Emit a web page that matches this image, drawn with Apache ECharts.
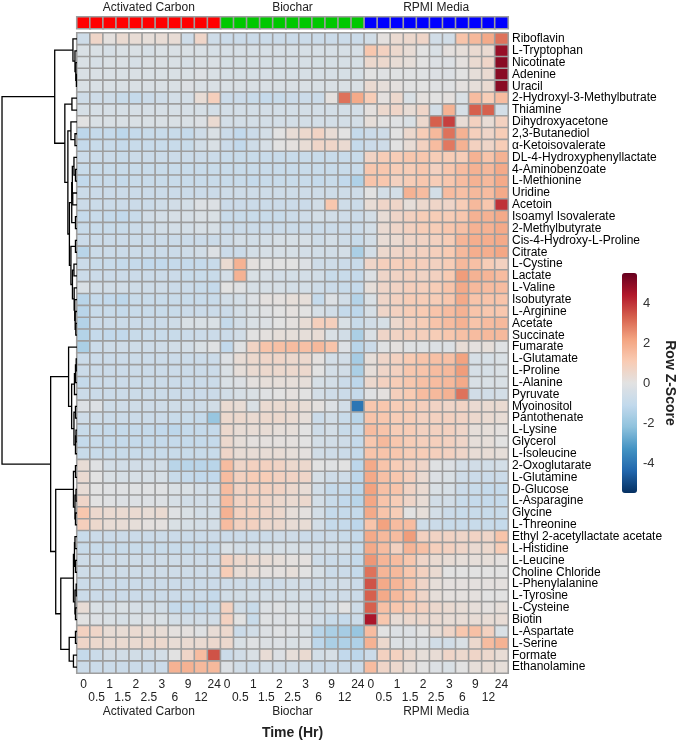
<!DOCTYPE html>
<html><head><meta charset="utf-8">
<script src="https://cdn.jsdelivr.net/npm/echarts@6/dist/echarts.min.js"></script>
<style>html,body{margin:0;padding:0;background:#fff}#c{width:681px;height:745px}</style>
</head><body><div id="c"></div>
<script>
const rowNames = ['Riboflavin','L-Tryptophan','Nicotinate','Adenine','Uracil','2-Hydroxyl-3-Methylbutrate','Thiamine','Dihydroxyacetone','2,3-Butanediol','α-Ketoisovalerate','DL-4-Hydroxyphenyllactate','4-Aminobenzoate','L-Methionine','Uridine','Acetoin','Isoamyl Isovalerate','2-Methylbutyrate','Cis-4-Hydroxy-L-Proline','Citrate','L-Cystine','Lactate','L-Valine','Isobutyrate','L-Arginine','Acetate','Succinate','Fumarate','L-Glutamate','L-Proline','L-Alanine','Pyruvate','Myoinositol','Pantothenate','L-Lysine','Glycerol','L-Isoleucine','2-Oxoglutarate','L-Glutamine','D-Glucose','L-Asparagine','Glycine','L-Threonine','Ethyl 2-acetyllactate acetate','L-Histidine','L-Leucine','Choline Chloride','L-Phenylalanine','L-Tyrosine','L-Cysteine','Biotin','L-Aspartate','L-Serine','Formate','Ethanolamine'];
const timeLabels = ['0','0.5','1','1.5','2','2.5','3','6','9','12','24'];
const groupNames = ['Activated Carbon','Biochar','RPMI Media'];
const groupColors = ['#ff0000','#00c800','#0000ff'];
const legendTicks = [-4,-2,0,2,4];

const acValues = [
[-0.7,0.6,0.1,0.4,0.3,0.2,0.3,0.3,-0.7,0.6,-0.7],
[-0.3,-0.3,-0.4,-0.3,-0.3,-0.4,-0.3,-0.3,-0.3,-0.3,-0.4],
[-0.3,-0.4,-0.3,-0.3,-0.4,-0.3,-0.3,-0.3,-0.4,-0.3,-0.3],
[-0.3,-0.3,-0.3,-0.3,-0.3,-0.3,-0.3,-0.3,-0.3,-0.2,-0.3],
[-0.3,-0.3,-0.3,-0.3,-0.3,-0.3,-0.3,-0.3,-0.2,-0.3,-0.3],
[-0.7,-0.7,-0.7,-0.9,-1.0,-0.8,-0.7,-0.5,-0.5,0.3,0.9],
[-0.4,-0.4,-0.4,-0.4,-0.4,-0.4,-0.4,-0.4,-0.4,-0.4,-0.5],
[0,-0.3,-0.3,-0.3,-0.3,-0.3,-0.3,-0.3,-0.3,-0.2,0.4],
[-1.2,-1.0,-1.0,-1.2,-1.0,-0.9,-0.9,-0.9,-1.0,-0.7,-0.3],
[-1.0,-0.9,-0.9,-1.0,-0.9,-0.9,-0.9,-0.9,-0.9,-0.6,-0.3],
[-0.8,-0.8,-0.8,-0.9,-0.8,-0.8,-0.8,-0.8,-0.8,-0.8,-0.8],
[-0.9,-0.9,-0.9,-0.9,-0.9,-0.9,-0.9,-0.9,-0.9,-0.9,-0.9],
[-1.1,-0.9,-0.9,-1.0,-0.9,-0.9,-0.9,-0.9,-0.9,-0.9,-0.9],
[-0.8,-0.8,-0.8,-0.8,-0.8,-0.8,-0.8,-0.8,-0.8,-0.8,-0.8],
[-0.8,-0.8,-0.8,-0.8,-0.8,-0.8,-0.7,-0.6,-0.5,-0.2,-0.2],
[-1.0,-0.9,-1.0,-1.1,-0.9,-0.6,-0.5,-0.4,-0.4,-0.3,-0.3],
[-0.9,-0.9,-0.9,-0.9,-0.8,-0.7,-0.6,-0.5,-0.5,-0.4,-0.4],
[-0.8,-0.8,-0.8,-0.8,-0.8,-0.8,-0.8,-0.8,-0.8,-0.8,-0.8],
[-1.3,-0.8,-0.8,-0.8,-0.8,-0.8,-0.8,-0.8,-0.7,-0.6,-0.2],
[-0.8,-0.9,-0.9,-1.0,-1.0,-1.1,-1.1,-1.0,-1.0,-1.0,-0.9],
[-0.8,-0.8,-0.8,-0.8,-0.8,-0.8,-0.8,-0.8,-0.9,-0.9,-0.9],
[-0.3,-0.6,-0.6,-0.6,-0.7,-0.7,-0.7,-0.8,-0.8,-0.9,-1.0],
[-1.3,-1.0,-1.1,-1.2,-0.9,-0.9,-0.9,-0.9,-0.9,-0.9,-0.9],
[-1.3,-0.9,-0.9,-1.0,-0.9,-0.9,-0.9,-0.9,-0.8,-0.8,-0.8],
[-1.4,-0.8,-0.8,-0.8,-0.8,-0.8,-0.8,-0.7,-0.3,-0.3,-0.3],
[-1.4,-1.0,-1.1,-1.1,-0.9,-0.9,-0.9,-0.9,-0.8,-0.8,-0.8],
[-1.6,-0.8,-0.7,-0.7,-0.7,-0.7,-0.7,-0.6,-0.5,-0.3,-0.1],
[-0.8,-0.8,-0.8,-0.8,-0.8,-0.8,-0.8,-0.8,-0.8,-0.8,-0.8],
[-0.8,-0.8,-0.8,-0.8,-0.8,-0.8,-0.8,-0.8,-0.8,-0.8,-0.8],
[-1.0,-0.8,-0.8,-0.8,-0.8,-0.8,-0.8,-0.8,-0.8,-0.8,-0.8],
[-0.8,-0.8,-0.8,-0.8,-0.8,-0.8,-0.8,-0.8,-0.8,-0.8,-0.8],
[-0.2,-0.2,-0.7,-0.7,-0.7,-0.7,-0.7,-0.7,-0.7,-0.7,-0.6],
[-0.7,-0.7,-0.8,-0.8,-0.8,-0.8,-0.8,-0.9,-0.9,-1.0,-2.0],
[-0.9,-0.9,-1.0,-1.0,-1.0,-1.0,-1.1,-1.2,-1.0,-1.0,-1.0],
[-1.0,-0.9,-1.0,-1.0,-1.0,-1.0,-1.0,-1.0,-1.0,-1.0,-1.0],
[-0.9,-0.9,-0.9,-0.9,-0.9,-0.9,-0.9,-0.9,-0.9,-0.9,-0.9],
[0.3,-0.1,-0.5,-0.6,-0.6,-0.6,-0.6,-1.3,-1.3,-1.3,-1.3],
[0.4,0,-0.3,-0.4,-0.4,-0.4,-0.4,-0.9,-1.0,-1.1,-1.1],
[0.3,0,-0.1,-0.1,-0.1,-0.1,-0.1,-0.3,-0.3,-0.5,-0.6],
[0.6,0,-0.1,-0.2,-0.2,-0.2,-0.2,-0.4,-0.6,-0.6,-0.6],
[1.2,0.5,0.4,0.4,0.4,0.3,0.4,-0.1,-0.3,-0.5,-0.5],
[0.9,0.5,0.3,0.3,0.2,0.1,0.1,-0.3,-0.4,-0.5,-0.5],
[-0.9,-0.8,-0.8,-0.8,-0.8,-0.8,-0.8,-0.8,-0.8,-0.8,-0.8],
[-0.9,-0.9,-0.9,-0.9,-0.9,-0.9,-0.9,-0.9,-0.9,-0.9,-0.9],
[-0.7,-0.7,-0.7,-0.7,-0.7,-0.7,-0.7,-0.7,-0.7,-0.7,-0.7],
[-0.7,-0.7,-0.7,-0.7,-0.7,-0.7,-0.7,-0.7,-0.7,-0.7,-0.7],
[-0.8,-0.8,-0.8,-0.8,-0.8,-0.8,-0.8,-0.8,-0.8,-0.8,-0.8],
[-0.8,-0.8,-0.8,-0.8,-0.8,-0.8,-0.8,-0.8,-0.8,-0.8,-1.0],
[0.3,-0.3,-0.4,-0.3,-0.4,-0.5,-0.6,-1.0,-1.0,-1.0,-0.9],
[0,-0.2,-0.3,-0.4,-0.3,-0.2,-0.3,-0.5,-0.6,-0.6,-0.6],
[0.8,0.6,0.3,0.3,0.4,0.3,0.3,0.1,0.1,-0.1,0.3],
[0.6,0.5,0.4,0.4,0.4,0.5,0.5,0.3,0.4,0.4,0.5],
[-1.0,-0.8,-0.6,-0.6,-0.6,-0.7,-0.5,0,0.6,1.5,3.5],
[-0.8,-0.8,-0.8,-0.8,-0.8,-0.8,-0.8,1.8,1.8,1.6,1.6]
];

const bcValues = [
[-0.8,-0.8,-0.8,-0.8,-0.8,-0.8,-0.8,-0.8,-0.8,-0.8,-0.8],
[-0.4,-0.4,-0.4,-0.4,-0.4,-0.4,-0.4,-0.4,-0.4,-0.4,-0.4],
[-0.4,-0.4,-0.4,-0.4,-0.4,-0.4,-0.4,-0.4,-0.4,-0.4,-0.4],
[-0.4,-0.4,-0.4,-0.4,-0.4,-0.4,-0.4,-0.4,-0.4,-0.4,-0.4],
[-0.3,-0.3,-0.3,-0.3,-0.3,-0.3,-0.3,-0.3,-0.3,-0.3,-0.3],
[-0.8,-0.8,-0.9,-1.0,-0.9,-0.8,-0.8,-0.8,0.1,3.0,2.0],
[-0.5,-0.5,-0.5,-0.5,-0.5,-0.5,-0.5,-0.5,-0.5,-0.5,-0.5],
[-0.5,-0.5,-0.5,-0.5,-0.5,-0.5,-0.5,-0.5,-0.5,-0.5,-0.5],
[-0.8,-1.1,-0.8,-0.5,0,0.3,0.5,0.7,0.3,0,-1.0],
[-0.8,-1.1,-0.7,-0.4,0,0.1,0.3,0.6,0.6,0.4,-1.0],
[-0.9,-0.9,-0.9,-0.9,-0.9,-0.9,-0.9,-0.9,-0.9,-0.9,-0.9],
[-0.9,-0.9,-0.9,-0.9,-0.9,-0.9,-0.9,-0.9,-0.9,-0.9,-0.9],
[-0.9,-0.9,-1.0,-0.9,-0.9,-0.9,-0.9,-1.0,-0.9,-1.1,-1.5],
[-0.7,-0.7,-0.7,-0.7,-0.7,-0.7,-0.7,-0.7,-0.7,-0.7,-0.7],
[-0.8,-0.8,-0.8,-0.8,-0.8,-0.8,-0.8,-0.6,1.2,-0.7,-0.8],
[-0.9,-0.9,-0.9,-0.9,-0.9,-0.8,-0.7,-0.5,-0.6,-0.7,-0.8],
[-0.8,-0.8,-0.8,-0.8,-0.8,-0.8,-0.8,-0.8,-0.8,-0.8,-0.8],
[-0.7,-0.5,-0.6,-0.5,-0.4,-0.4,-0.4,-0.7,-0.5,-0.7,-0.9],
[-0.8,-0.8,-0.5,-0.4,-0.4,-0.4,-0.5,-0.6,-0.6,-0.5,-1.6],
[0.4,1.8,0.1,0,0,0,-0.2,-0.7,-0.7,-0.8,-0.9],
[-0.5,1.8,-0.3,-0.4,-0.5,-0.5,-0.5,-0.6,-0.9,-0.9,-1.0],
[0,-0.1,-0.4,-0.4,-0.4,-0.5,-0.5,-0.7,-0.8,-0.9,-1.0],
[-0.6,-0.5,-0.2,0.1,0.1,0.2,0.2,-1.0,-0.2,-0.6,-1.4],
[-0.8,-0.5,-0.3,-0.1,0,0.1,0,-0.4,-0.6,-1.0,-1.2],
[-1.0,-0.6,-0.3,-0.2,0,0.1,0.3,0.9,0.9,-0.3,-0.9],
[-0.8,-0.6,0,0.1,0.2,0.2,0.2,0.3,-0.3,-0.6,-1.6],
[-1.1,-0.1,0.7,1.3,1.4,1.5,1.4,1.6,1.3,-0.2,-1.3],
[-0.2,0.3,0.5,0.6,0.6,0.5,0.5,0.1,-0.5,-0.6,-1.7],
[-0.3,0.2,0.4,0.5,0.5,0.5,0.5,0,-0.5,-0.6,-1.6],
[-0.3,-0.2,0.1,0.2,0.2,0.2,0.2,-0.4,-0.5,-0.8,-1.2],
[-0.6,-0.4,-0.3,-0.1,0,0.1,0,-0.5,-0.7,-0.8,-1.0],
[0.4,0.3,-0.3,0.4,0.4,0.4,0.3,0.1,-0.2,-0.6,-4.0],
[0.5,0.5,0.4,0.5,0.5,0.4,0.2,-0.8,-0.6,-0.9,-1.3],
[0.5,0.3,0.3,0.3,0.2,0.2,0,-0.7,-0.5,-0.9,-1.0],
[0.5,0.2,0.1,0.1,0.1,0.1,0,-0.5,-0.6,-0.7,-1.0],
[0.6,0.3,0.3,0.3,0.3,0.2,0.1,-0.6,-0.7,-0.8,-1.0],
[1.5,0.6,0.8,0.8,0.7,0.5,0.5,0,-0.1,0,-1.2],
[1.5,0.8,1.0,1.0,0.8,0.7,0.6,-0.4,-0.7,-0.7,-1.2],
[1.5,0.7,0.8,0.8,0.7,0.5,0.3,-0.6,-1.0,-1.0,-1.2],
[1.5,0.7,0.8,0.6,0.5,0.4,0.5,-0.5,-0.9,-1.1,-1.3],
[1.8,0.8,0.8,0.6,0.5,0.2,0.1,-0.5,-1.0,-1.0,-1.0],
[1.5,0.8,0.8,0.5,0.5,0.3,0.3,-0.5,-1.0,-1.0,-1.2],
[-0.8,-0.8,-0.8,-0.8,-0.7,-0.7,-0.8,-0.8,-0.8,-0.9,-1.0],
[-0.3,-0.5,-0.5,-0.4,-0.4,-0.4,-0.4,-0.6,-0.6,-0.6,-0.9],
[0.8,0.5,0.4,0.3,0.2,0.1,0.1,-0.7,-0.8,-0.8,-1.0],
[1.0,0.3,0.3,0.1,0.1,0.2,0,-0.4,-0.8,-0.8,-1.0],
[-0.7,-0.7,-0.7,-0.7,-0.7,-0.6,-0.6,-0.7,-0.7,-0.6,-0.8],
[-0.6,-0.6,-0.5,-0.5,-0.5,-0.5,-0.5,-0.7,-0.7,-0.7,-0.8],
[0.8,-0.6,-0.9,-0.2,-0.1,-0.3,-0.3,-0.6,-0.4,0,-0.7],
[0.8,0,-0.9,-0.1,-0.2,-0.1,-0.2,-0.6,-0.9,-1.0,-0.8],
[0.5,-0.8,-0.6,-0.2,-0.1,-0.2,-0.3,-1.3,-1.6,-1.7,-2.0],
[0.5,-0.3,-0.1,-0.2,-0.2,-0.3,-0.2,-1.2,-1.6,-1.5,-1.5],
[-0.8,-0.6,-0.3,0.3,-0.2,0.2,0.4,-0.5,-0.4,-1.1,-1.2],
[-0.2,-0.6,-0.7,-0.5,-0.6,-0.6,-0.6,-0.8,-0.8,-0.8,-0.8]
];

const rpmiValues = [
[-0.6,0.1,0.4,0.5,0.6,-0.6,-0.6,1.3,1.6,2.0,3.0],
[1.2,0.8,0.5,0.3,0,-0.3,0.1,0.2,0.4,0.4,4.8],
[0.5,0.5,0.3,0.2,0,-0.2,-0.2,0.1,0.4,0.6,5.0],
[0,-0.1,-0.1,-0.1,-0.1,-0.2,-0.2,0,0.2,0.4,5.0],
[0.4,0.2,0.1,0,0,-0.1,-0.1,0.1,0.2,0.4,5.0],
[1.0,0.1,0.5,-0.3,0.1,0,0.1,-0.3,1.5,1.0,1.5],
[0.1,0.5,0.6,0.3,0.6,-0.5,1.8,-0.4,3.3,3.3,-0.5],
[0.2,0,-0.1,-0.3,0.5,3.3,3.8,0.3,0.8,0.3,0.8],
[-0.8,-0.7,0,0.5,1.0,1.6,3.0,1.8,0.9,0.6,1.0],
[-0.8,-0.7,0,0.3,0.8,1.5,2.9,1.8,0.8,0.6,1.0],
[0.7,1.0,1.0,1.2,1.2,1.0,1.0,1.0,1.8,1.3,1.8],
[1.2,1.2,1.0,1.0,1.2,0.8,1.2,1.5,1.8,1.6,2.0],
[1.3,1.2,0.8,1.0,1.2,1.0,1.2,1.5,1.8,1.6,2.0],
[0,-0.5,-0.5,1.8,1.5,-0.5,1.5,1.4,1.6,1.5,2.0],
[0.3,0.6,0.6,0.2,0.5,0.6,0.6,1.0,1.6,1.2,4.0],
[-0.5,0.3,0.6,0.8,1.0,1.0,1.0,1.2,1.8,1.8,2.0],
[-0.5,0.4,0.6,0.8,1.0,1.0,1.2,1.4,1.8,1.8,2.0],
[-0.5,0.3,0.4,0.6,0.7,0.8,1.0,1.7,1.9,1.9,2.0],
[-0.5,0.5,0.6,0.7,0.8,0.9,1.1,1.6,1.9,1.9,2.1],
[0.6,0.9,0.9,1.0,0.9,0.8,1.0,1.6,1.4,1.0,0.8],
[-0.2,0.6,0.7,0.8,0.7,0.8,1.1,2.3,1.8,1.7,1.5],
[0.2,0.6,0.7,0.9,0.9,1.0,1.3,2.0,1.6,1.5,1.5],
[-0.3,0.6,0.8,1.0,1.0,1.0,1.2,2.0,1.3,1.3,1.3],
[-0.4,0.6,0.8,1.0,1.1,1.3,1.5,1.8,1.3,1.2,1.2],
[-0.6,-0.4,0.5,0.8,1.0,1.3,1.5,1.8,1.3,1.5,1.6],
[-0.3,0.6,0.7,0.9,0.9,1.0,1.2,1.4,1.5,1.6,1.6],
[-0.8,-0.1,0.1,-0.1,-0.1,-0.2,-0.2,0.3,0.1,0.2,-0.1],
[0.2,0.6,0.8,1.1,1.3,1.4,1.4,2.2,-0.4,-0.4,-0.3],
[0.2,0.6,0.8,1.2,1.3,1.5,1.6,2.3,-0.4,-0.4,-0.3],
[0.5,0.8,1.0,1.2,1.4,1.5,1.6,2.0,-0.3,-0.3,-0.3],
[-0.1,0.1,0.9,1.1,1.5,1.6,1.8,3.0,-0.6,-0.6,-0.5],
[1.2,1.2,1.0,1.0,0.9,0.7,0.6,0.7,0.4,0.4,0.4],
[1.3,1.2,1.0,1.0,0.8,0.8,0.8,0.7,0.5,0.4,0.3],
[1.5,1.3,1.0,1.0,0.8,0.8,0.8,0.6,0.2,0.2,0.1],
[1.2,1.6,1.2,1.0,0.9,0.9,0.8,0.6,0.2,0.2,0],
[1.3,1.3,1.2,1.0,1.0,0.9,0.8,0.6,0.3,0.3,0.2],
[2.0,1.3,1.0,0.8,0.6,-0.1,-0.2,-0.5,-0.6,-0.6,-0.5],
[2.0,1.4,1.2,0.9,0.4,-0.2,-0.3,-0.7,-0.8,-0.8,-0.8],
[2.2,1.4,1.3,0.7,0.4,-0.3,-0.4,-0.8,-0.9,-1.0,-1.0],
[2.1,1.3,1.0,0.6,0.3,-0.6,-0.6,-0.9,-1.0,-1.0,-1.0],
[2.0,1.3,1.0,0,0.2,-0.5,-0.8,-0.9,-0.9,-0.9,-0.9],
[1.3,2.2,1.5,1.5,-0.7,-0.8,-0.9,-0.9,-0.9,-0.9,-1.0],
[2.0,1.6,1.5,2.3,0.8,0.7,0.7,0.6,0.7,0.6,1.3],
[2.0,1.5,0.8,1.7,1.4,0.9,0.8,0.6,0.4,0.5,1.0],
[2.4,1.7,1.5,1.2,0.6,0.4,0.3,0.2,0.2,0.2,0.1],
[3.0,1.7,1.6,1.2,0.8,0.4,0,0,0,0,0],
[3.5,2.0,1.7,1.3,0.6,0.2,0.1,0.1,0.1,0.1,0.1],
[3.3,2.0,1.6,1.2,0.6,0.2,0.1,0.1,0.1,0,0],
[3.3,1.4,1.2,1.0,0.8,0.5,0.4,0.3,0.2,0.1,0.2],
[4.5,1.2,0.3,0.5,0.5,0.4,0.3,0.3,0.3,0.3,0.3],
[1.5,0,-0.2,-0.2,0,0.3,0.6,1.2,1.4,0.8,-0.3],
[1.8,0.5,-0.2,-0.2,-0.2,-0.6,-0.6,-0.3,0.5,1.5,1.8],
[-0.8,0.8,0.8,0.5,0.2,0.3,0.6,0.5,0.6,0.5,0.3],
[1.5,0.6,0.5,0.2,0,-0.2,-0.3,0,0.2,0.3,0.2]
];

// Row dendrogram: [mergeHeight, left, right]; leaves are 1-based row numbers
const dendroTree = [74,
  [22,
    [4, 1, [2, 2, [1.2, 3, [0.6, 4, 5]]]],
    [12,
      [5, 6, 7],
      [9,
        [6, 8, [2, 9, 10]],
        [7.5,
          [5.2, [4.6, [3, 11, [1.5, 12, 13]], [4.2, 14, 15]], [1.5, 16, 17]],
          [6, [1.5, 18, 19], [4.5, [3, 20, 21], [2.8, 22, [2.2, 23, [1.8, 24, [1.2, 25, 26]]]]]]
        ]
      ]
    ]
  ],
  [26,
    [8.3, 27, [5.3, [2.5, [1.5, [0.8, 28, 29], 30], 31], [3, [1.5, 32, 33], [1.5, [1, 34, 35], 36]]]],
    [21,
      [3.5, [1.5, 37, 38], [2, [1, 39, 40], [1.5, 41, 42]]],
      [16,
        [3.5, [2.5, [2, 43, 44], [1.5, 45, 46]], [2, [0.8, 47, 48], [1.5, 49, 50]]],
        [7.7, [1.5, 51, 52], [3.5, 53, 54]]
      ]
    ]
  ]
];

const FONT = "'Liberation Sans', Arial, sans-serif";
const groupValues = [acValues, bcValues, rpmiValues];
const nCol = timeLabels.length;
const colCats = [];
groupNames.forEach((g, gi) => timeLabels.forEach(t => colCats.push(gi + '|' + t)));

const heatData = [];
rowNames.forEach((name, r) => {
  groupValues.forEach((vals, g) => {
    vals[r].forEach((v, c) => heatData.push([g * nCol + c, r, v]));
  });
});

const annData = colCats.map((c, i) => {
  const g = Math.floor(i / nCol);
  return { value: [i, 0, g], itemStyle: { color: groupColors[g] } };
});

const segs = [];
function layout(node) {
  if (typeof node === 'number') return { y: node - 0.5, h: 0 };
  const a = layout(node[1]), b = layout(node[2]);
  segs.push([node[0], a.y, b.y, a.h, b.h]);
  return { y: (a.y + b.y) / 2, h: node[0] };
}
layout(dendroTree);

const chart = echarts.init(document.getElementById('c'), null, { renderer: 'canvas' });
const HM = { left: 77, top: 33, width: 431, height: 640 };
chart.setOption({
  animation: false,
  backgroundColor: '#fff',
  textStyle: { fontFamily: FONT },
  grid: [
    { left: HM.left, top: HM.top, width: HM.width, height: HM.height },
    { left: 1, top: HM.top, width: 76, height: HM.height },
    { left: HM.left, top: 17, width: HM.width, height: 11.5 },
    { left: 622, top: 273, width: 15, height: 220 }
  ],
  xAxis: [
    { gridIndex: 0, type: 'category', data: colCats, position: 'bottom',
      axisLine: { show: false }, axisTick: { show: false }, splitLine: { show: false },
      axisLabel: { interval: 0, fontSize: 12, color: '#222', margin: 5, lineHeight: 13, fontFamily: FONT,
        formatter: (v, i) => { const t = v.split('|')[1]; return (i % nCol) % 2 ? '\n' + t : t; } } },
    { gridIndex: 0, type: 'category', data: groupNames, position: 'bottom', offset: 28,
      axisLine: { show: false }, axisTick: { show: false },
      axisLabel: { fontSize: 12, color: '#222', margin: 5, fontFamily: FONT },
      name: 'Time (Hr)', nameLocation: 'middle', nameGap: 25,
      nameTextStyle: { fontSize: 14, fontWeight: 'bold', color: '#222', fontFamily: FONT } },
    { gridIndex: 1, type: 'value', min: 0, max: 75, inverse: true, show: false },
    { gridIndex: 2, type: 'category', data: colCats, show: false },
    { gridIndex: 2, type: 'category', data: groupNames, position: 'top',
      axisLine: { show: false }, axisTick: { show: false },
      axisLabel: { fontSize: 12, color: '#222', margin: 3, fontFamily: FONT } },
    { gridIndex: 3, type: 'value', show: false }
  ],
  yAxis: [
    { gridIndex: 0, type: 'category', data: rowNames, inverse: true, position: 'right',
      axisLine: { show: false }, axisTick: { show: false },
      axisLabel: { interval: 0, fontSize: 12, color: '#000', margin: 4, fontFamily: FONT } },
    { gridIndex: 1, type: 'value', min: 0, max: rowNames.length, inverse: true, show: false },
    { gridIndex: 2, type: 'category', data: ['group'], show: false },
    { gridIndex: 3, type: 'value', min: -5.5, max: 5.5, position: 'right',
      axisLine: { show: false }, axisTick: { show: false }, splitLine: { show: false },
      axisLabel: { customValues: legendTicks, fontSize: 13, color: '#333', margin: 6, fontFamily: FONT },
      name: 'Row Z-Score', nameLocation: 'middle', nameRotate: -90, nameGap: 26,
      nameTextStyle: { fontSize: 14, fontWeight: 'bold', color: '#222', fontFamily: FONT } }
  ],
  visualMap: [{
    type: 'continuous', seriesIndex: 0, dimension: 2, min: -5.5, max: 5.5,
    calculable: false, hoverLink: false, left: 622, top: 273, padding: 0,
    itemWidth: 15, itemHeight: 220,
    inRange: { color: ['#053061','#2166ac','#4393c3','#8fc2dd','#c2d9ec','#e2e2e2','#f9cbb3','#f3a380','#d6604d','#b2182b','#67001f'] }
  }],
  series: [
    { type: 'heatmap', xAxisIndex: 0, yAxisIndex: 0, data: heatData, silent: true,
      itemStyle: { borderColor: '#9e9e9e', borderWidth: 1.6 } },
    { type: 'heatmap', xAxisIndex: 3, yAxisIndex: 2, data: annData, silent: true,
      itemStyle: { borderColor: '#9e9e9e', borderWidth: 1.6 } },
    { type: 'custom', xAxisIndex: 2, yAxisIndex: 1, data: segs, silent: true,
      encode: { x: [0, 3, 4], y: [1, 2] },
      renderItem: (params, api) => {
        const h = api.value(0), y1 = api.value(1), y2 = api.value(2), h1 = api.value(3), h2 = api.value(4);
        return { type: 'polyline',
          shape: { points: [api.coord([h1, y1]), api.coord([h, y1]), api.coord([h, y2]), api.coord([h2, y2])] },
          style: { stroke: '#000', lineWidth: 1.3, fill: null } };
      } }
  ]
});
</script></body></html>
